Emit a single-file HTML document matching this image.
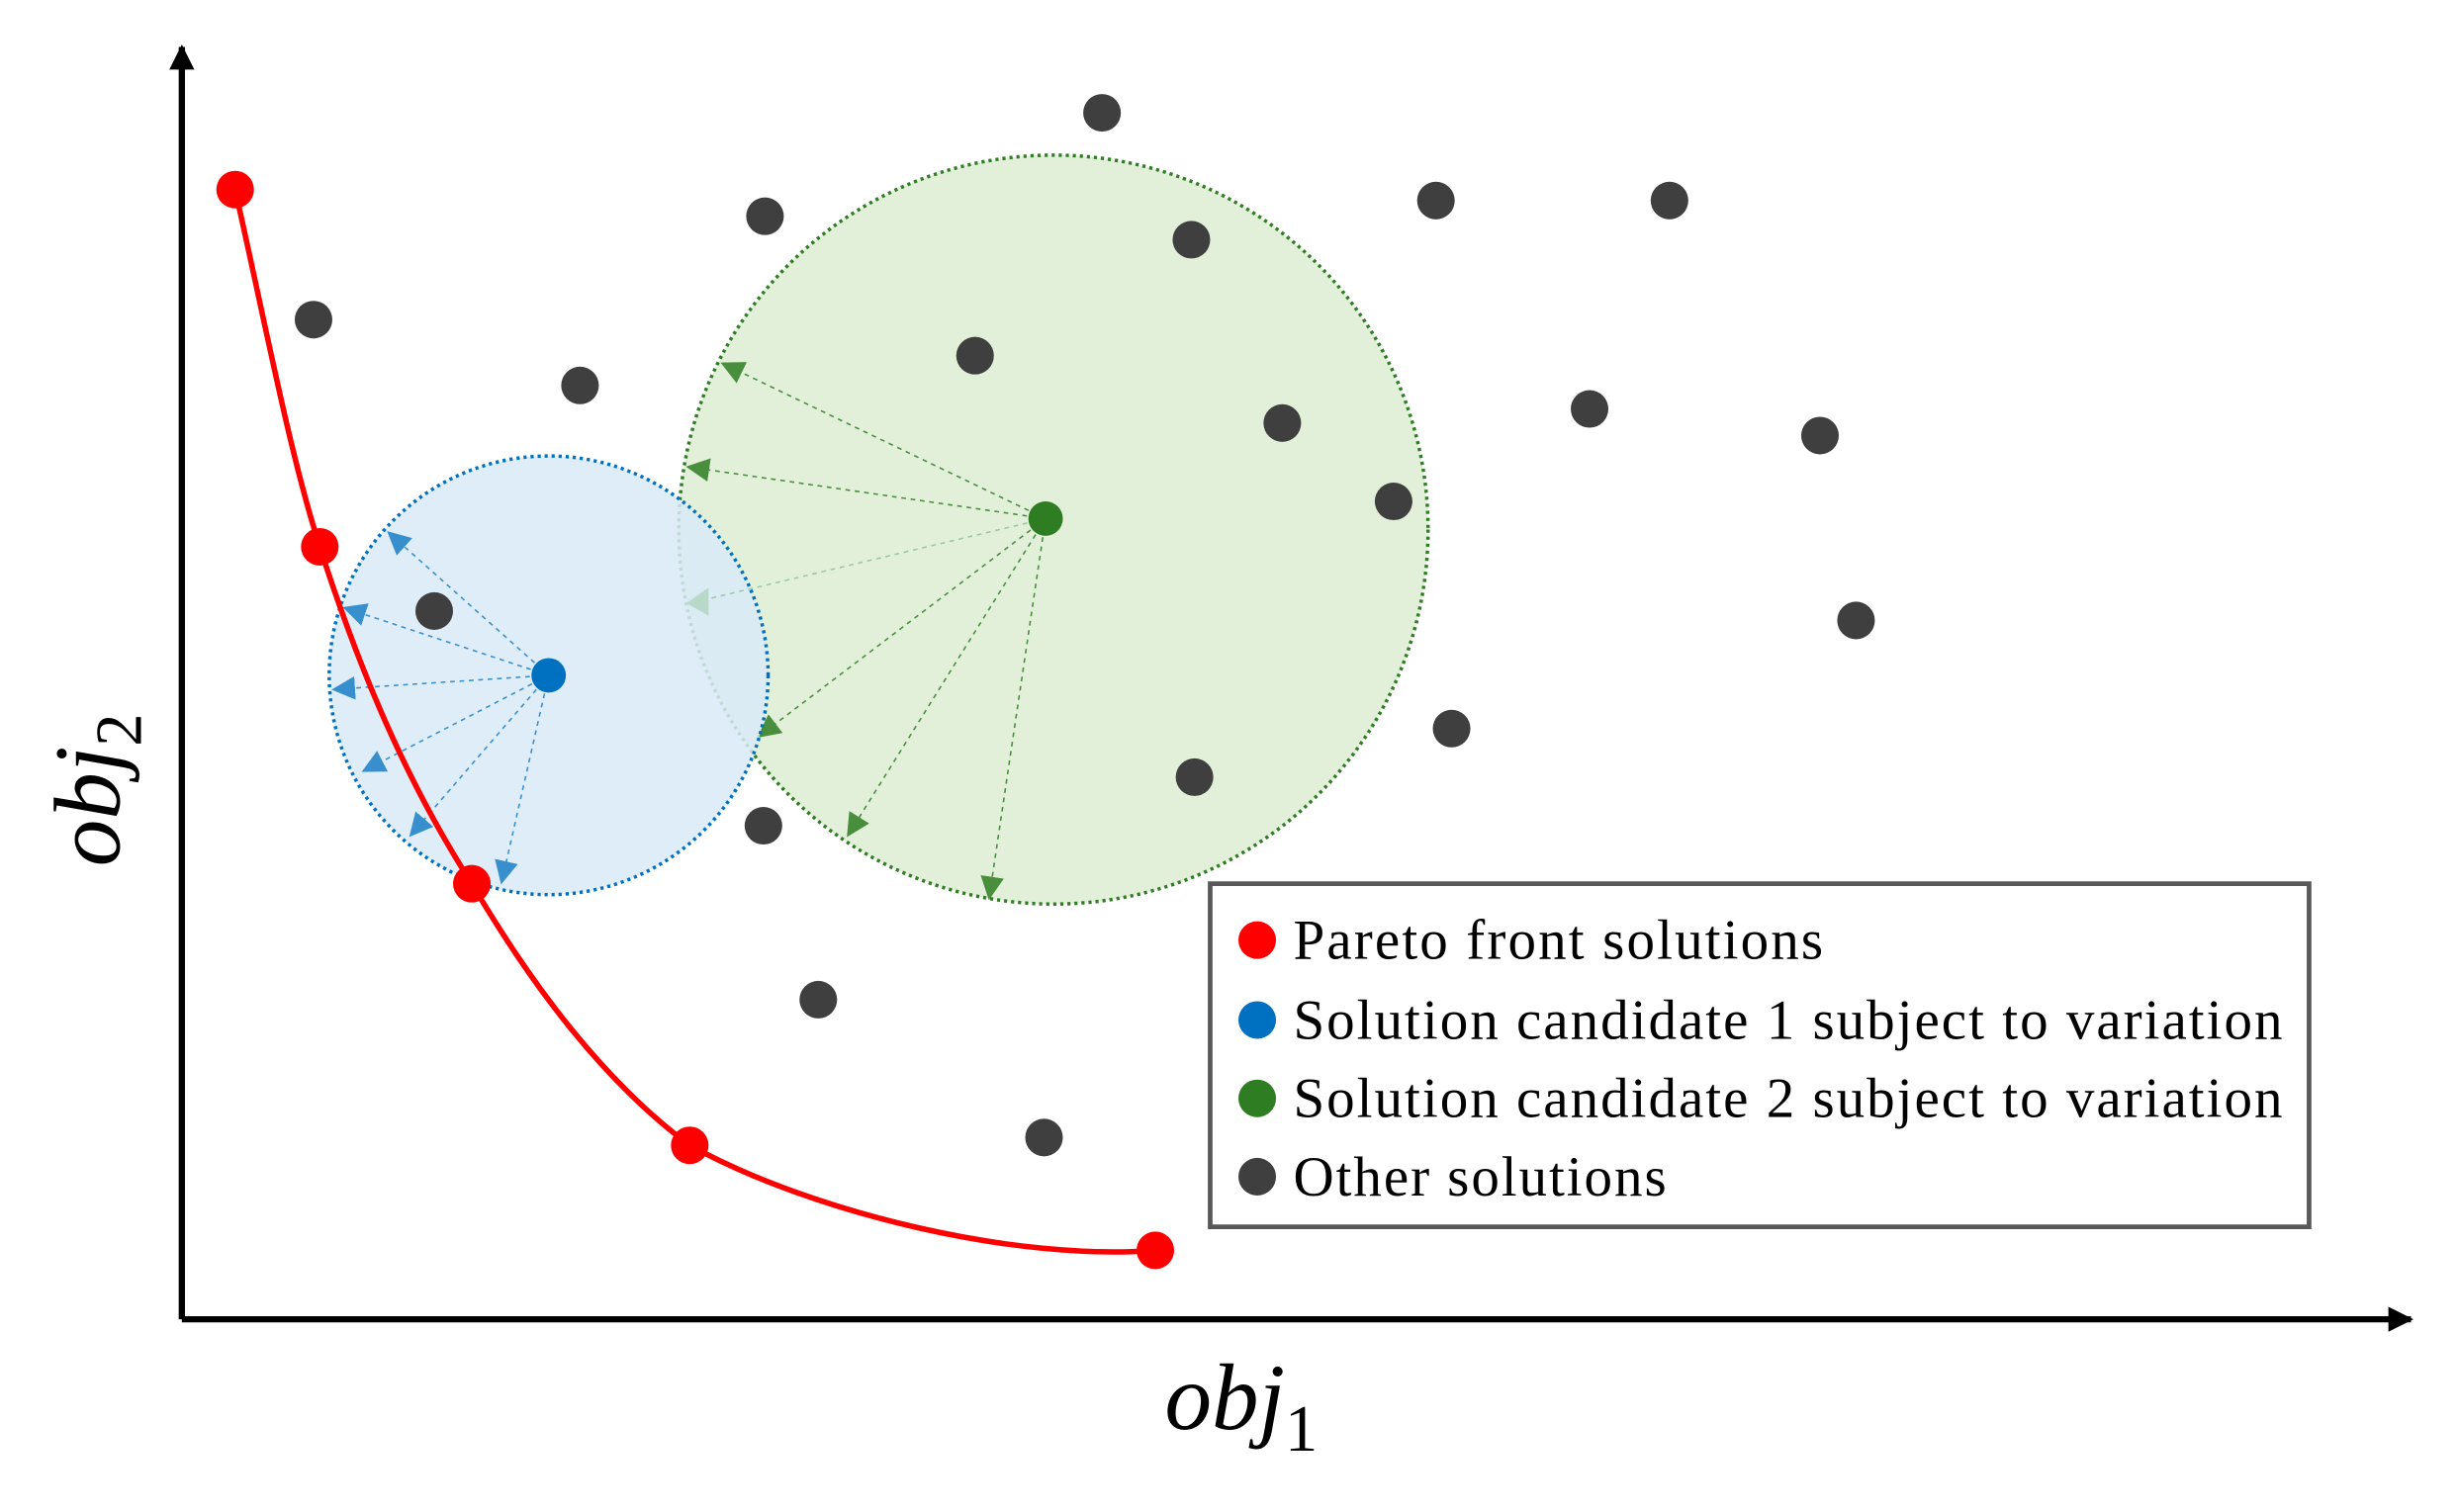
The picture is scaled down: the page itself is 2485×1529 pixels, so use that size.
<!DOCTYPE html>
<html><head><meta charset="utf-8"><style>
html,body{margin:0;padding:0;background:#fff;width:2485px;height:1529px;overflow:hidden}
svg{display:block}
</style></head><body>
<svg width="2485" height="1529" viewBox="0 0 1568 965" preserveAspectRatio="none" xmlns="http://www.w3.org/2000/svg">
<defs>
<marker id="ab" viewBox="0 0 10 10" refX="9" refY="5" markerWidth="15" markerHeight="15" markerUnits="userSpaceOnUse" orient="auto"><path d="M0,0 L10,5 L0,10 z" fill="#0070c0"/></marker>
<marker id="ag" viewBox="0 0 10 10" refX="9" refY="5" markerWidth="15" markerHeight="15" markerUnits="userSpaceOnUse" orient="auto"><path d="M0,0 L10,5 L0,10 z" fill="#2e7d22"/></marker>
<marker id="ak" viewBox="0 0 10 10" refX="9" refY="5" markerWidth="16" markerHeight="16" markerUnits="userSpaceOnUse" orient="auto"><path d="M0,0 L10,5 L0,10 z" fill="#000"/></marker>
</defs>
<circle cx="672" cy="338" r="239" fill="#e2f0d9" stroke="#2e7d22" stroke-width="2.2" stroke-dasharray="2 2.5"/>
<g stroke="#2e7d22" stroke-width="1" stroke-dasharray="3 3" opacity="0.85">
<line x1="667" y1="331" x2="461" y2="232" marker-end="url(#ag)"/>
<line x1="667" y1="331" x2="439" y2="298" marker-end="url(#ag)"/>
<line x1="667" y1="331" x2="484" y2="470" marker-end="url(#ag)"/>
<line x1="667" y1="331" x2="541" y2="533" marker-end="url(#ag)"/>
<line x1="667" y1="331" x2="631" y2="573" marker-end="url(#ag)"/>
</g>
<circle cx="350" cy="431" r="140" fill="#d9eaf7" fill-opacity="0.85" stroke="#0070c0" stroke-width="2.2" stroke-dasharray="2 2.5"/>
<line x1="667" y1="331" x2="440" y2="385" stroke="#9cc7a8" stroke-width="1" stroke-dasharray="3 3"/>
<path d="M438,385 L452,375 L452,393 z" fill="#b8d8c8"/>
<g stroke="#0070c0" stroke-width="1" stroke-dasharray="3 3" opacity="0.75">
<line x1="350" y1="431" x2="248" y2="340" marker-end="url(#ab)"/>
<line x1="350" y1="431" x2="220" y2="388" marker-end="url(#ab)"/>
<line x1="350" y1="431" x2="213" y2="440" marker-end="url(#ab)"/>
<line x1="350" y1="431" x2="232" y2="492" marker-end="url(#ab)"/>
<line x1="350" y1="431" x2="262" y2="533" marker-end="url(#ab)"/>
<line x1="350" y1="431" x2="320" y2="563" marker-end="url(#ab)"/>
</g>
<g fill="#3f3f3f">
<circle cx="703" cy="72" r="12"/><circle cx="488" cy="138" r="12"/><circle cx="760" cy="153" r="12"/>
<circle cx="916" cy="128" r="12"/><circle cx="1065" cy="128" r="12"/><circle cx="200" cy="204" r="12"/>
<circle cx="370" cy="246" r="12"/><circle cx="622" cy="227" r="12"/><circle cx="818" cy="270" r="12"/>
<circle cx="1014" cy="261" r="12"/><circle cx="1161" cy="278" r="12"/><circle cx="889" cy="320" r="12"/>
<circle cx="277" cy="390" r="12"/><circle cx="1184" cy="396" r="12"/><circle cx="926" cy="465" r="12"/>
<circle cx="762" cy="496" r="12"/><circle cx="487" cy="527" r="12"/><circle cx="522" cy="638" r="12"/>
<circle cx="666" cy="726" r="12"/>
</g>
<circle cx="350" cy="431" r="11" fill="#0070c0"/>
<circle cx="667" cy="331" r="11" fill="#2e7d22"/>
<path d="M150,121 C170,210 185,290 204,349 C230,430 260,500 301,564 C340,630 385,690 440,731 C520,775 650,805 737,798" fill="none" stroke="#ff0000" stroke-width="3.5"/>
<g fill="#ff0000">
<circle cx="150" cy="121" r="12"/><circle cx="204" cy="349" r="12"/><circle cx="301" cy="564" r="12"/>
<circle cx="440" cy="731" r="12"/><circle cx="737" cy="798" r="12"/>
</g>
<line x1="116" y1="842" x2="116" y2="30" stroke="#000" stroke-width="4" marker-end="url(#ak)"/>
<line x1="116" y1="842" x2="1538" y2="842" stroke="#000" stroke-width="4" marker-end="url(#ak)"/>
<rect x="772" y="564" width="701" height="219" fill="#fff" stroke="#595959" stroke-width="3"/>
<circle cx="802" cy="600" r="12" fill="#ff0000"/>
<circle cx="802" cy="651" r="12" fill="#0070c0"/>
<circle cx="802" cy="701" r="12" fill="#2e7d22"/>
<circle cx="802" cy="751" r="12" fill="#3f3f3f"/>
<g font-family="Liberation Serif, serif" font-size="36" fill="#000">
<text x="825" y="612" textLength="338">Pareto front solutions</text>
<text x="825" y="663" textLength="631">Solution candidate 1 subject to variation</text>
<text x="825" y="713" textLength="631">Solution candidate 2 subject to variation</text>
<text x="825" y="763" textLength="238">Other solutions</text>
</g>
<text x="743" y="912" font-family="Liberation Serif, serif" font-style="italic" font-size="60">obj<tspan font-style="normal" font-size="42" dy="14">1</tspan></text>
<text transform="translate(76,553) rotate(-90)" font-family="Liberation Serif, serif" font-style="italic" font-size="60">obj<tspan font-style="normal" font-size="42" dy="14">2</tspan></text>
</svg>
</body></html>
